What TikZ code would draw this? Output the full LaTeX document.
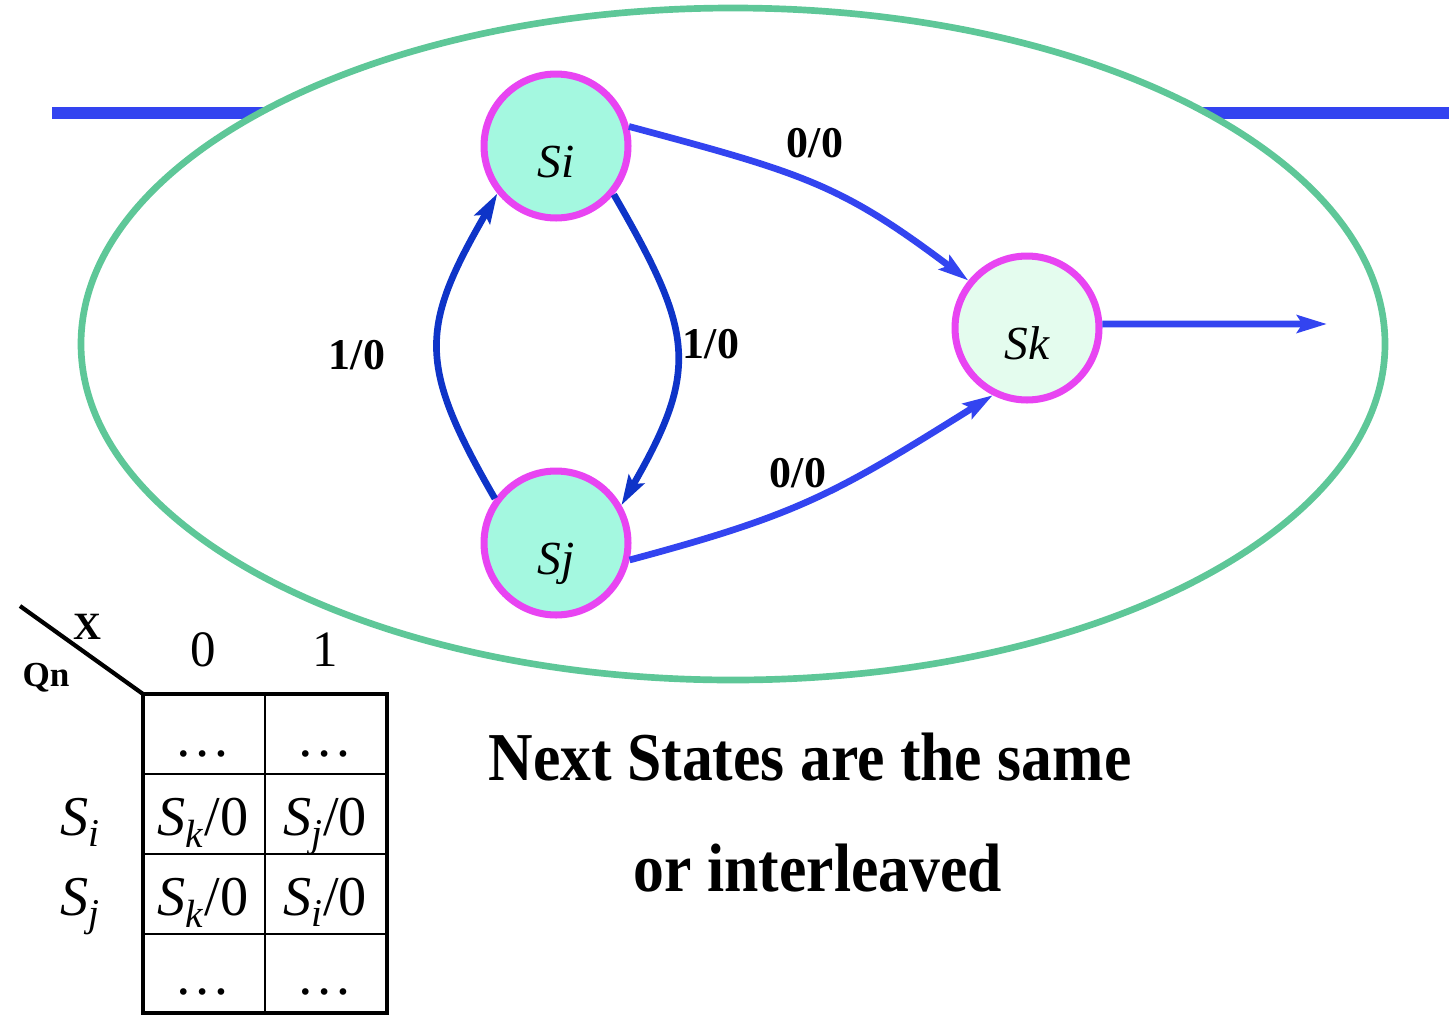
\documentclass[tikz,border=0pt]{standalone}
\usepackage{fontspec}
\setmainfont{Liberation Serif}
\newfontfamily\narrowfont[FakeStretch=0.9]{Liberation Serif}
\usepackage{tikz}
\usetikzlibrary{arrows.meta}

\definecolor{ringgreen}{RGB}{94,199,152}
\definecolor{linkblue}{RGB}{51,68,240}
\definecolor{loopblue}{RGB}{14,52,200}
\definecolor{statefill}{RGB}{164,248,224}
\definecolor{lightfill}{RGB}{228,252,238}
\definecolor{ringmagenta}{RGB}{232,68,242}

\newcommand{\Sx}[1]{\textit{S}\textsubscript{\textit{#1}}}

\begin{document}
\begin{tikzpicture}[x=0.02cm,y=0.02cm,>={Stealth[length=17pt,width=10pt,inset=3pt]},
		state node/.style={circle,draw=ringmagenta,line width=4pt,minimum size=2.88cm,inner sep=0pt,
			font=\fontsize{27}{30}\selectfont\itshape,text height=1.25cm,text depth=0pt},
		edge label/.style={font=\fontsize{25}{28}\selectfont\bfseries,inner sep=0pt},
		cell/.style={font=\fontsize{32}{36}\selectfont,anchor=base,inner sep=0pt},
		note/.style={font=\narrowfont\bfseries\fontsize{39}{44}\selectfont,inner sep=0pt}]

		\useasboundingbox (0,0) rectangle (1456,-1028);

		% bar behind the ring
		\draw[linkblue,line width=6.4pt] (52,-113) -- (1449,-113);
		\draw[ringgreen,line width=3.8pt,fill=white] (733,-344) ellipse [x radius=652,y radius=336];

		\node[state node,fill=statefill] (Si) at (556,-146) {Si};
		\node[state node,fill=statefill] (Sj) at (556,-543) {Sj};
		\node[state node,fill=lightfill] (Sk) at (1027,-328) {Sk};
		\coordinate (out) at (1327,-324);

		\path[->,line width=3.8pt]
		(Si.15) edge [linkblue,out=-15,in=143,out looseness=1.25,in looseness=1.1] (Sk.141)
		(Sj.-13) edge [linkblue,out=15,in=-148,out looseness=1.13,in looseness=1.2] (Sk.-117)
		(Si.-40) edge [loopblue,out=-60,in=60,looseness=1.3] (Sj.30)
		(Sj.144) edge [loopblue,out=120,in=240,looseness=1.3] (Si.-141)
		(Sk.3) edge [linkblue] (out);

		\node[edge label] (a00) at (815,-143) {0/0};
		\node[edge label] (b00) at (798,-473) {0/0};
		\node[edge label] (a10) at (711,-344) {1/0};
		\node[edge label] (b10) at (357,-355) {1/0};

		% state table
		\draw[line width=2.4pt] (20,-606) -- (143,-694);
		\node[font=\fontsize{22}{24}\selectfont\bfseries] (x) at (87,-627) {X};
		\node[font=\fontsize{20}{22}\selectfont\bfseries] (qn) at (46,-678) {Qn};
		\node[cell,font=\fontsize{29}{34}\selectfont] (h0) at (203,-666) {0};
		\node[cell,font=\fontsize{29}{34}\selectfont] (h1) at (325,-666) {1};
		\draw[line width=1.4pt] (265,-694) -- (265,-1013)
		(143,-774) -- (387,-774) (143,-854) -- (387,-854) (143,-934) -- (387,-934);
		\draw[line width=2.8pt] (143,-694) rectangle (387,-1013);

		\node[cell] (ri) at (80,-835) {\Sx{i}};
		\node[cell] (rj) at (80,-915) {\Sx{j}};
		\node[cell] (c10) at (203,-756) {…};
		\node[cell] (c11) at (325,-756) {…};
		\node[cell] (c20) at (203,-835) {\Sx{k}/0};
		\node[cell] (c21) at (325,-835) {\Sx{j}/0};
		\node[cell] (c30) at (203,-915) {\Sx{k}/0};
		\node[cell] (c31) at (325,-915) {\Sx{i}/0};
		\node[cell] (c40) at (203,-994) {…};
		\node[cell] (c41) at (325,-994) {…};

		\node[note] (note1) at (810,-757) {Next States are the same};
		\node[note] (note2) at (818,-868) {or interleaved};
	\end{tikzpicture}
\end{document}
